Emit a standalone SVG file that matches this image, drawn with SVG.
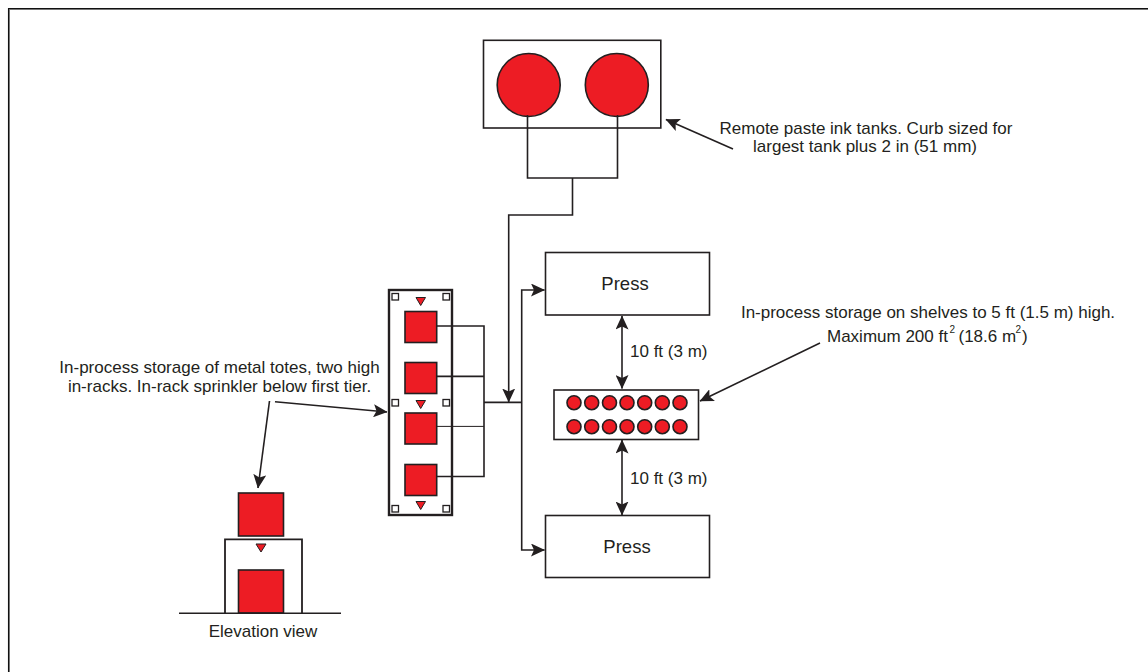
<svg xmlns="http://www.w3.org/2000/svg" width="1148" height="672" viewBox="0 0 1148 672">
<defs>
<marker id="arrow" markerUnits="userSpaceOnUse" markerWidth="14" markerHeight="13" refX="13.5" refY="6.5" orient="auto-start-reverse" viewBox="0 0 14 13"><path d="M0 0L14 6.5L0 13L3 6.5Z" fill="#231f20"/></marker>
</defs>
<style>
text{font-family:"Liberation Sans",Arial,sans-serif;font-size:17px;fill:#231f20}
.m{text-anchor:middle}
.sup{font-size:10px}
.press{font-size:18.5px}
.box{fill:#fff;stroke:#231f20;stroke-width:1.6}
.rack{fill:#fff;stroke:#231f20;stroke-width:2.4}
.red{fill:#ed1c24;stroke:#231f20;stroke-width:1.6}
.tri{fill:#ed1c24;stroke:#231f20;stroke-width:1}
.post{fill:#fff;stroke:#231f20;stroke-width:1.3}
.line{fill:none;stroke:#231f20;stroke-width:1.6}
.thin{fill:none;stroke:#231f20;stroke-width:1}
.arr{marker-end:url(#arrow)}
.both{marker-start:url(#arrow);marker-end:url(#arrow)}
</style>
<g id="frame" fill="none">
<path d="M9.5 672V9.5H1148" stroke="#999" stroke-width="1"/>
<path d="M8.6 672V8.6H1148" stroke="#111" stroke-width="1.3"/>
</g>
<g id="tanks">
<rect class="box" x="483.5" y="40.3" width="177.3" height="87.7"/>
<circle class="red" cx="528.7" cy="85" r="31.5"/>
<circle class="red" cx="616.8" cy="85" r="31.5"/>
</g>
<g id="rack">
<rect class="rack" x="389" y="290" width="63" height="225"/>
<rect class="post" x="392" y="293.5" width="6.5" height="6.5"/>
<rect class="post" x="443" y="293.5" width="6.5" height="6.5"/>
<rect class="post" x="392" y="399.5" width="6.5" height="6.5"/>
<rect class="post" x="443" y="399.5" width="6.5" height="6.5"/>
<rect class="post" x="392" y="505.5" width="6.5" height="6.5"/>
<rect class="post" x="443" y="505.5" width="6.5" height="6.5"/>
<path class="tri" d="M416 297.5H425.5L420.7 305.5Z"/>
<path class="tri" d="M416 400.5H425.5L420.7 408.5Z"/>
<path class="tri" d="M416 501.5H425.5L420.7 509.5Z"/>
<rect class="red" x="405" y="311.5" width="31.7" height="31"/>
<rect class="red" x="405" y="362.5" width="31.7" height="31"/>
<rect class="red" x="405" y="413" width="31.7" height="31"/>
<rect class="red" x="405" y="464.5" width="31.7" height="31"/>
</g>
<g id="press-1"><rect class="box" x="545.5" y="252.5" width="164" height="62.5"/><text class="m press" x="625" y="290">Press</text></g>
<g id="press-2"><rect class="box" x="545.5" y="515.5" width="164" height="62"/><text class="m press" x="627" y="553">Press</text></g>
<g id="shelf">
<rect class="box" x="554" y="390" width="144.5" height="49.5"/>
<g class="red">
<circle cx="574" cy="402.7" r="7"/><circle cx="591.7" cy="402.7" r="7"/><circle cx="609.5" cy="402.7" r="7"/><circle cx="627" cy="402.7" r="7"/><circle cx="644.7" cy="402.7" r="7"/><circle cx="662.3" cy="402.7" r="7"/><circle cx="680" cy="402.7" r="7"/>
<circle cx="574" cy="426.7" r="7"/><circle cx="591.7" cy="426.7" r="7"/><circle cx="609.5" cy="426.7" r="7"/><circle cx="627" cy="426.7" r="7"/><circle cx="644.7" cy="426.7" r="7"/><circle cx="662.3" cy="426.7" r="7"/><circle cx="680" cy="426.7" r="7"/>
</g>
</g>
<g id="elevation">
<path d="M225 613V539.3H302V613" fill="#fff" stroke="#231f20" stroke-width="1.8"/>
<rect class="red" x="238.5" y="493" width="45" height="43"/>
<rect class="red" x="238.5" y="570" width="45" height="43"/>
<path class="tri" d="M256 544H266L261 552Z"/>
<path class="line" d="M179 613.3H341"/>
<text class="m" x="263" y="637">Elevation view</text>
</g>
<g id="connectors">
<path class="line" d="M527.5 115V178H617.5V115"/>
<path class="line arr" d="M572.5 178V215H508.7V402"/>
<path class="line" d="M436.7 326H484V476.5H436.7M436.7 376.4H484M484 402.4H521.7"/>
<path class="thin" d="M436.7 426.4H484"/>
<path class="line both" d="M544.5 290H521.7V550H544.5"/>
<path class="line both" d="M622 316V388.5"/>
<path class="line both" d="M622 440V515"/>
<path class="line arr" d="M733 149L666 119.5"/>
<path class="line arr" d="M820 343L700 401"/>
<path class="line arr" d="M275 401.7L387 412"/>
<path class="line arr" d="M269.5 401L258 488"/>
</g>
<g id="labels">
<text class="m" x="866" y="134">Remote paste ink tanks. Curb sized for</text>
<text class="m" x="865" y="152">largest tank plus 2 in (51 mm)</text>
<text class="m" x="928" y="318">In-process storage on shelves to 5 ft (1.5 m) high.</text>
<text x="827" y="341.5">Maximum 200 ft</text><text class="sup" x="949.5" y="333">2</text>
<text x="958.5" y="341.5">(18.6 m</text><text class="sup" x="1015.5" y="333">2</text><text x="1022" y="341.5">)</text>
<text x="630" y="356.5">10 ft (3 m)</text>
<text x="630" y="484">10 ft (3 m)</text>
<text class="m" x="219.5" y="373">In-process storage of metal totes, two high</text>
<text class="m" x="219.5" y="392">in-racks. In-rack sprinkler below first tier.</text>
</g>
</svg>
